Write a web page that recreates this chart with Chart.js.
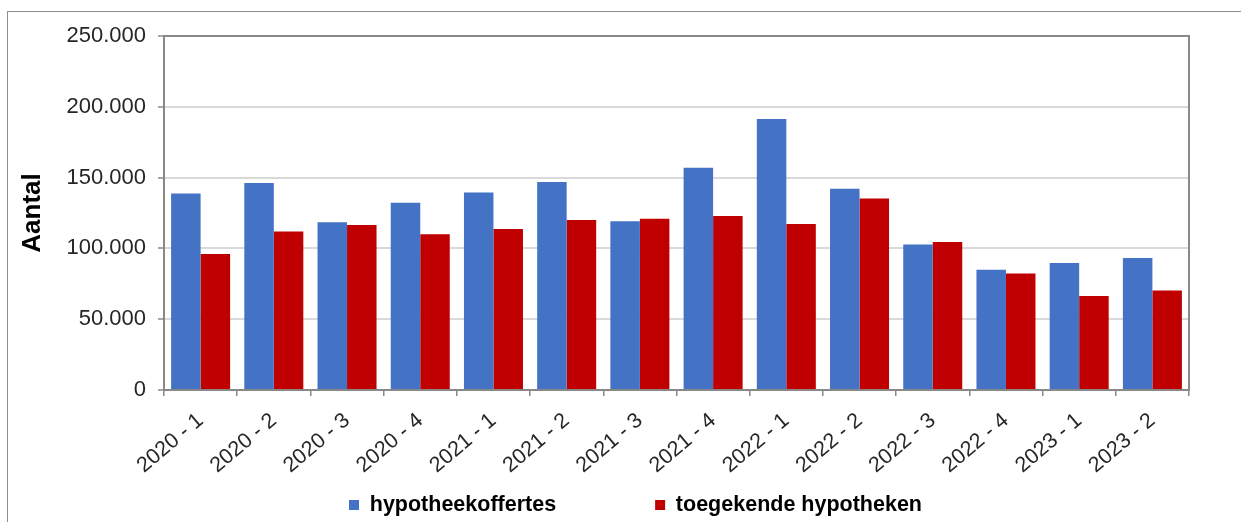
<!DOCTYPE html>
<html>
<head>
<meta charset="utf-8">
<script src="https://cdn.jsdelivr.net/npm/chart.js@4.4.1/dist/chart.umd.min.js"></script>
<style>
  html, body { margin: 0; padding: 0; background: #fff; }
  #wrap { position: relative; width: 1241px; height: 522px; }
  canvas { display: block; }
</style>
</head>
<body>
<div id="wrap"><canvas id="c" width="1241" height="522"></canvas></div>
<script>
const categories = ['2020 - 1','2020 - 2','2020 - 3','2020 - 4','2021 - 1','2021 - 2','2021 - 3','2021 - 4','2022 - 1','2022 - 2','2022 - 3','2022 - 4','2023 - 1','2023 - 2'];
const hypotheekoffertes = [138700,146200,118400,132200,139400,146900,119100,157000,191400,142200,102700,85000,89700,93200];
const toegekendeHypotheken = [96000,111900,116500,110000,113700,120000,121000,122900,117200,135200,104500,82200,66400,70200];
const seriesNames = ['hypotheekoffertes','toegekende hypotheken'];
const yTitle = 'Aantal';
const yMax = 250000;
const yStep = 50000;

const FONT = '"Liberation Sans", Arial, sans-serif';

function fmt(v) {
  return String(v).replace(/\B(?=(\d{3})+(?!\d))/g, '.');
}

const framePlugin = {
  id: 'frame',
  beforeDraw(chart) {
    const ctx = chart.ctx;
    ctx.save();
    ctx.fillStyle = '#ffffff';
    ctx.fillRect(0, 0, chart.width, chart.height);
    ctx.strokeStyle = '#8c8c8c';
    ctx.lineWidth = 1;
    ctx.strokeRect(7.5, 11.5, chart.width + 10, chart.height + 10);
    ctx.restore();
  },
  afterDatasetsDraw(chart) {
    const ctx = chart.ctx;
    const a = chart.chartArea;
    ctx.save();
    ctx.strokeStyle = '#888888';
    ctx.lineWidth = 2;
    ctx.beginPath();
    ctx.moveTo(a.left - 1, a.top);
    ctx.lineTo(a.right, a.top);
    ctx.lineTo(a.right, a.bottom + 1);
    ctx.stroke();
    ctx.restore();
  }
};

const legendPlace = {
  id: 'legendPlace',
  afterLayout(chart) {
    const lg = chart.legend;
    if (!lg) return;
    const pad = lg.options.labels.padding;
    const fs = lg.options.labels.font.size;
    lg.top = 505 - fs / 2 - pad;
    lg.bottom = lg.top + fs + pad + 10;
    lg.left = 349 - pad;
    lg.right = chart.width;
    lg.width = lg.right - lg.left;
  }
};

new Chart(document.getElementById('c'), {
  type: 'bar',
  data: {
    labels: categories,
    datasets: [
      { label: seriesNames[0], data: hypotheekoffertes, backgroundColor: '#4472C4', borderWidth: 0 },
      { label: seriesNames[1], data: toegekendeHypotheken, backgroundColor: '#C00000', borderWidth: 0 }
    ]
  },
  options: {
    responsive: false,
    animation: false,
    devicePixelRatio: 1,
    layout: { padding: { left: 10, right: 52, top: 36, bottom: 0 } },
    datasets: { bar: { categoryPercentage: 0.806, barPercentage: 1.0 } },
    plugins: {
      tooltip: { enabled: false },
      legend: {
        position: 'bottom',
        align: 'start',
        maxHeight: 1,
        labels: {
          boxWidth: 10,
          boxHeight: 10,
          padding: 99,
          color: '#000000',
          font: { family: FONT, size: 21.5, weight: 'bold' }
        }
      }
    },
    scales: {
      x: {
        afterFit(s) { s.height = 131; },
        grid: { offset: true, drawOnChartArea: false, drawTicks: true, tickLength: 6, color: '#888888', lineWidth: 1.5 },
        border: { color: '#888888', width: 2 },
        ticks: {
          autoSkip: false,
          minRotation: 40,
          maxRotation: 40,
          padding: 12,
          color: '#262626',
          font: { family: FONT, size: 21.5 }
        }
      },
      y: {
        min: 0,
        max: yMax,
        afterFit(s) { s.width = 154; },
        grid: { color: '#d9d9d9', lineWidth: 2, tickLength: 6, tickColor: '#888888', tickWidth: 1.5 },
        border: { color: '#888888', width: 2 },
        ticks: {
          stepSize: yStep,
          padding: 12,
          color: '#262626',
          font: { family: FONT, size: 22 },
          callback: (v) => fmt(v)
        },
        title: {
          display: true,
          text: yTitle,
          color: '#000000',
          padding: { top: 7, bottom: 0 },
          font: { family: FONT, size: 26, weight: 'bold' }
        }
      }
    }
  },
  plugins: [framePlugin, legendPlace]
});
</script>
</body>
</html>
